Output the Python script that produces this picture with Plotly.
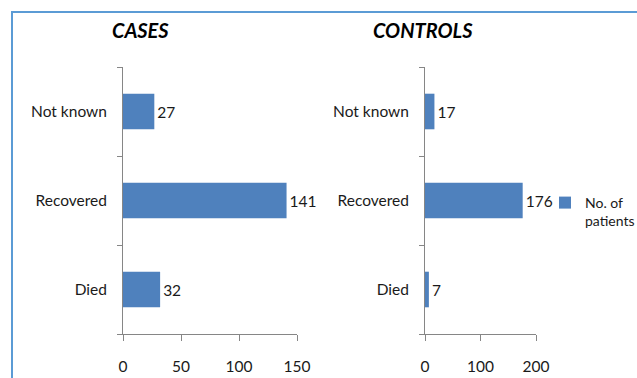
import plotly.graph_objects as go

categories = ["Died", "Recovered", "Not known"]
cases = [32, 141, 27]
controls = [7, 176, 17]
panel_titles = ["CASES", "CONTROLS"]
legend_name = "No. of<br>patients"
cases_ticks = [0, 50, 100, 150]
controls_ticks = [0, 100, 200]

W, H = 637, 378
BAR = "#4F81BD"
AX = "#868686"
TXT = "#1a1a1a"
FONT = "Lato"
FS = 15.5

def px(x):
    return x / W

def py(y):
    return 1 - y / H

fig = go.Figure()
fig.add_trace(go.Bar(
    y=categories, x=cases, orientation="h", name=legend_name,
    marker=dict(color=BAR, line=dict(width=0)), width=0.4,
    text=cases, textposition="outside", cliponaxis=False, constraintext="none",
    textfont=dict(family=FONT, size=FS, color=TXT),
    xaxis="x", yaxis="y", showlegend=True,
))
fig.add_trace(go.Bar(
    y=categories, x=controls, orientation="h", name=legend_name,
    marker=dict(color=BAR, line=dict(width=0)), width=0.4,
    text=controls, textposition="outside", cliponaxis=False, constraintext="none",
    textfont=dict(family=FONT, size=FS, color=TXT),
    xaxis="x2", yaxis="y2", showlegend=False,
))

yd = [py(334), py(67)]
xcommon = dict(showgrid=False, zeroline=False, showline=True, linecolor=AX, linewidth=1,
               ticks="outside", ticklen=6, tickcolor=AX, tickwidth=1,
               tickfont=dict(family=FONT, size=FS, color=TXT), ticklabelstandoff=12,
               tickmode="array", fixedrange=True)
ycommon = dict(showgrid=False, zeroline=False, showline=True, linecolor=AX, linewidth=1,
               ticks="outside", ticklen=5, tickcolor=AX, tickwidth=1, tickson="boundaries",
               tickfont=dict(family=FONT, size=FS, color=TXT), ticklabelstandoff=12,
               categoryorder="array", categoryarray=categories, range=[-0.5, 2.5],
               fixedrange=True)

fig.update_layout(
    width=W, height=H,
    margin=dict(l=0, r=0, t=0, b=0, autoexpand=False),
    paper_bgcolor="white", plot_bgcolor="white",
    xaxis=dict(domain=[px(123), px(297)], range=[0, 150], tickvals=cases_ticks, anchor="y", **xcommon),
    yaxis=dict(domain=yd, anchor="x", **ycommon),
    xaxis2=dict(domain=[px(425), px(536)], range=[0, 200], tickvals=controls_ticks, anchor="y2", **xcommon),
    yaxis2=dict(domain=yd, anchor="x2", **ycommon),
    showlegend=True,
    legend=dict(x=px(545), y=py(187), xanchor="left", yanchor="top", valign="top",
                font=dict(family=FONT, size=14, color=TXT), bgcolor="rgba(0,0,0,0)",
                itemwidth=30, tracegroupgap=0),
    annotations=[
        dict(text="<b><i>" + panel_titles[0] + "</i></b>", x=px(140), y=py(30), xref="paper", yref="paper",
             xanchor="center", yanchor="middle",
             showarrow=False, font=dict(family=FONT, size=20, color="#000000")),
        dict(text="<b><i>" + panel_titles[1] + "</i></b>", x=px(423), y=py(30), xref="paper", yref="paper",
             xanchor="center", yanchor="middle",
             showarrow=False, font=dict(family=FONT, size=20, color="#000000")),
    ],
    shapes=[
        dict(type="rect", xref="paper", yref="paper", x0=px(12), y0=py(400), x1=px(660), y1=py(12),
             line=dict(color="#5B9BD5", width=2), fillcolor="rgba(0,0,0,0)", layer="below"),
    ],
)

fig.write_html("out.html")
